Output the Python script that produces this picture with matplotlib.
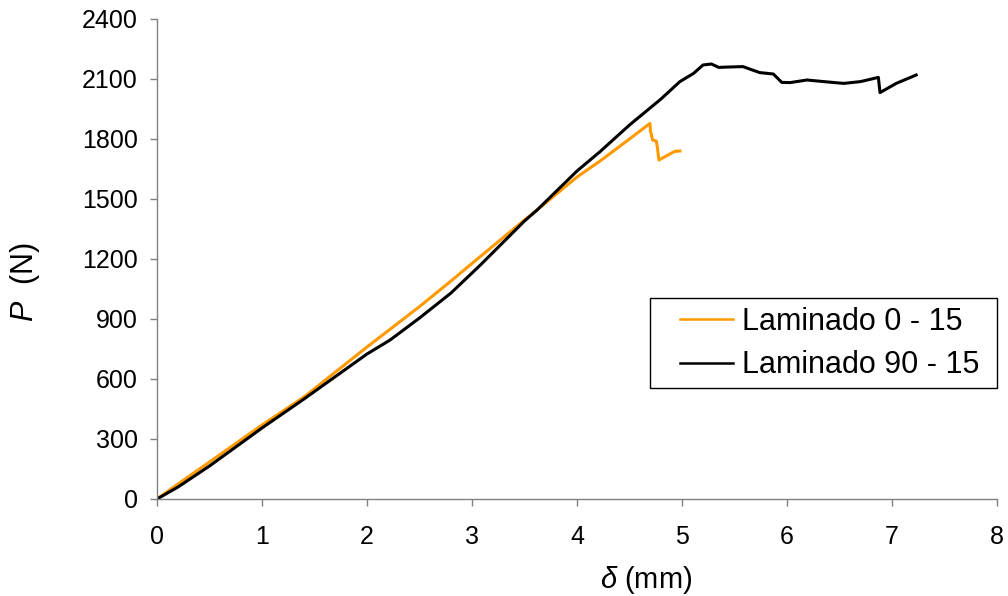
import numpy as np
import matplotlib
matplotlib.use("Agg")
import matplotlib.pyplot as plt
from matplotlib.patches import Rectangle

plt.rcParams['font.family'] = ['Liberation Sans', 'DejaVu Sans']
plt.rcParams['mathtext.fontset'] = 'custom'
plt.rcParams['mathtext.it'] = 'Liberation Sans:italic'

# Laminado 0 - 15 : displacement (mm) and load (N)
delta_0_15 = [0.0, 0.2, 0.5, 1.0, 1.4, 2.0, 2.5, 2.8, 3.0, 3.5, 3.62, 4.0, 4.22,
              4.5, 4.695, 4.70, 4.72, 4.755, 4.765, 4.78, 4.85, 4.93, 4.98]
load_0_15 = [0, 75, 185, 370, 510, 760, 962, 1090, 1178, 1395, 1445, 1610, 1690,
             1800, 1878, 1840, 1795, 1790, 1760, 1695, 1715, 1738, 1740]

# Laminado 90 - 15 : displacement (mm) and load (N)
delta_90_15 = [0.0, 0.2, 0.5, 1.0, 1.4, 2.0, 2.22, 2.5, 2.8, 3.08, 3.5, 3.62, 4.0, 4.22,
               4.5, 4.8, 4.98, 5.11, 5.2, 5.28, 5.35, 5.45, 5.58, 5.74, 5.87, 5.95,
               6.03, 6.19, 6.35, 6.54, 6.70, 6.87, 6.886, 7.04, 7.23]
load_90_15 = [0, 60, 165, 355, 500, 725, 795, 905, 1030, 1170, 1390, 1445, 1640, 1737,
              1870, 2000, 2087, 2128, 2170, 2175, 2158, 2160, 2162, 2132, 2125, 2083,
              2082, 2095, 2087, 2078, 2087, 2108, 2032, 2078, 2120]

x_ticks = [0, 1, 2, 3, 4, 5, 6, 7, 8]
y_ticks = [0, 300, 600, 900, 1200, 1500, 1800, 2100, 2400]

W, H = 1008, 596
fig = plt.figure(figsize=(W / 100, H / 100), dpi=100)
ax = fig.add_axes([157 / W, 1 - 499 / H, 840 / W, 480 / H])

ax.plot(delta_0_15, load_0_15, color='#FF9900', lw=2.2, label='Laminado 0 - 15',
        solid_joinstyle='round')
ax.plot(delta_90_15, load_90_15, color='black', lw=2.2, label='Laminado 90 - 15',
        solid_joinstyle='round')

ax.set_xlim(0, 8)
ax.set_ylim(0, 2400)
ax.set_xticks(x_ticks)
ax.set_yticks(y_ticks)
ax.tick_params(direction='out', length=5, width=1, color='#808080', labelsize=18)
ax.tick_params(axis='x', pad=14)
ax.tick_params(axis='y', pad=9)
for side in ('top', 'right'):
    ax.spines[side].set_visible(False)
for side in ('left', 'bottom'):
    ax.spines[side].set_color('#808080')
    ax.spines[side].set_linewidth(1)

ax.set_xlabel(r'$\delta$ (mm)', fontsize=21)
ax.xaxis.set_label_coords(0.583, -0.135)
ax.set_ylabel(r'$P$  (N)', fontsize=22)
ax.yaxis.set_label_coords(-0.137, 0.452)

# legend box
fig.patches.append(Rectangle((650 / W, 1 - 388 / H), 347 / W, 90 / H,
                             transform=fig.transFigure, facecolor='white',
                             edgecolor='black', linewidth=1, zorder=3))
leg = fig.legend(loc='center left', bbox_to_anchor=(680 / W, 1 - 343.5 / H),
                 bbox_transform=fig.transFigure, borderaxespad=0, borderpad=0,
                 fontsize=22, frameon=False, handlelength=1.73,
                 handletextpad=0.3, labelspacing=0.45)
leg.set_zorder(4)
for line in leg.get_lines():
    line.set_linewidth(1.8)

fig.savefig('out.png', dpi=100)
